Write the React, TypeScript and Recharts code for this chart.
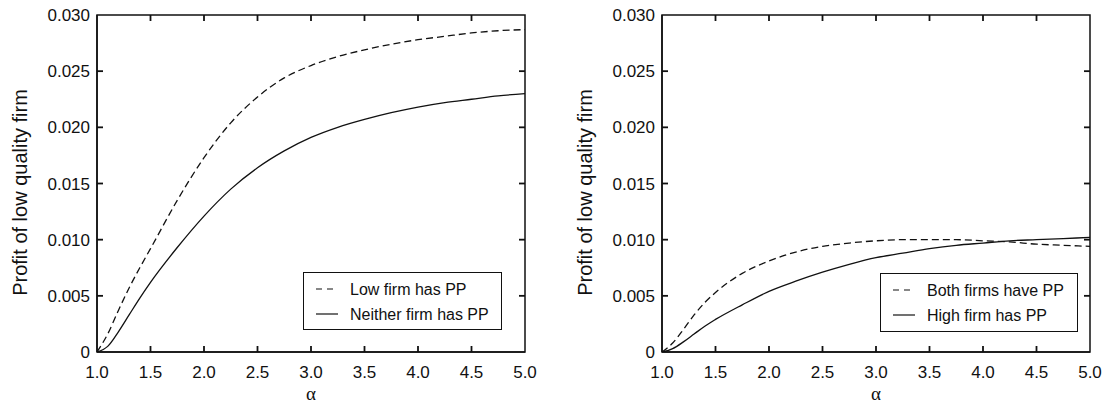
import React from 'react';
import { LineChart, Line, XAxis, YAxis, Legend, Label, ReferenceLine, ReferenceArea } from 'recharts';

const ALPHA = [1.0, 1.1, 1.2, 1.3, 1.4, 1.5, 1.75, 2.0, 2.25, 2.5, 2.75, 3.0, 3.25, 3.5, 3.75, 4.0, 4.25, 4.5, 4.75, 5.0];

// Left panel
const LOW_FIRM_PP = [0, 0.0016, 0.0037, 0.0057, 0.0075, 0.0092, 0.0135, 0.0173, 0.0204, 0.0227, 0.0244, 0.0255, 0.0263, 0.0269, 0.0274, 0.0278, 0.0281, 0.0284, 0.0286, 0.0287];
const NEITHER_FIRM_PP = [0, 0.0005, 0.0018, 0.0033, 0.0048, 0.0062, 0.0093, 0.0121, 0.0145, 0.0164, 0.0179, 0.0191, 0.02, 0.0207, 0.0213, 0.0218, 0.0222, 0.0225, 0.0228, 0.023];

// Right panel
const BOTH_FIRMS_PP = [0, 0.0008, 0.002, 0.0033, 0.0044, 0.0053, 0.007, 0.0081, 0.0089, 0.0094, 0.0097, 0.0099, 0.01, 0.01, 0.01, 0.0099, 0.0098, 0.0096, 0.0095, 0.0094];
const HIGH_FIRM_PP = [0, 0.0003, 0.0009, 0.0016, 0.0023, 0.0029, 0.0042, 0.0054, 0.0063, 0.0071, 0.0078, 0.0084, 0.0088, 0.0092, 0.0095, 0.0097, 0.0099, 0.01, 0.0101, 0.0102];

const X_TICKS = [1.0, 1.5, 2.0, 2.5, 3.0, 3.5, 4.0, 4.5, 5.0];
const Y_TICKS = [0, 0.005, 0.01, 0.015, 0.02, 0.025, 0.03];

const Y_LABEL = 'Profit of low quality firm';
const X_LABEL = 'α';

const FONT = '"Liberation Sans", Arial, Helvetica, sans-serif';
const INK = '#111';
const DASH = '7 4';

const X_MIN = 1;
const X_MAX = 5;
const Y_MIN = 0;
const Y_MAX = 0.03;
const PLOT_W = 428;
const PLOT_H = 337;
const TICK_PX = 6;
const TICK_DX = ((X_MAX - X_MIN) * TICK_PX) / PLOT_W;
const TICK_DY = ((Y_MAX - Y_MIN) * TICK_PX) / PLOT_H;

const fmtX = (v: number) => v.toFixed(1);
const fmtY = (v: number) => (v === 0 ? '0' : v.toFixed(3));

const BottomTick = (p: any) => (
  <text x={p.x} y={p.y + 26} textAnchor="middle" fontSize={17} fontFamily={FONT} fill={INK}>
    {fmtX(p.payload.value)}
  </text>
);
const LeftTick = (p: any) => (
  <text x={p.x - 7} y={p.y + 6} textAnchor="end" fontSize={17} fontFamily={FONT} fill={INK}>
    {fmtY(p.payload.value)}
  </text>
);

type PanelProps = {
  dashedName: string;
  solidName: string;
  dashed: number[];
  solid: number[];
  yAxisWidth: number;
  rightMargin: number;
  labelX: number;
  legend: { left: number; top: number; width: number; height: number };
};

const makeLegend = (box: PanelProps['legend'], dashedName: string, solidName: string) => () => (
  <svg width={box.width} height={box.height} style={{ display: 'block' }}>
    <rect x={0.5} y={0.5} width={box.width - 1} height={box.height - 1} fill="#fff" stroke={INK} strokeWidth={1} />
    <line x1={13} y1={17} x2={35} y2={17} stroke={INK} strokeWidth={1.2} strokeDasharray="6 5" />
    <text x={47} y={23} fontSize={16} fontFamily={FONT} fill={INK}>{dashedName}</text>
    <line x1={13} y1={42} x2={35} y2={42} stroke={INK} strokeWidth={1.2} />
    <text x={47} y={48} fontSize={16} fontFamily={FONT} fill={INK}>{solidName}</text>
  </svg>
);

const AXIS_LINE = { stroke: INK, strokeWidth: 1.5 };
const TICK_STYLE = { stroke: INK, strokeWidth: 1.8 };

const Panel = (props: PanelProps) => {
  const data = ALPHA.map((a, i) => ({ alpha: a, dashed: props.dashed[i], solid: props.solid[i] }));
  const labelX = props.labelX;
  const innerX = X_TICKS.filter((t) => t > X_MIN && t < X_MAX);
  const innerY = Y_TICKS.filter((t) => t > Y_MIN && t < Y_MAX);
  return (
    <LineChart
      width={553}
      height={410}
      data={data}
      margin={{ top: 15, right: props.rightMargin, bottom: 8, left: 0 }}
    >
      <XAxis
        dataKey="alpha"
        type="number"
        domain={[X_MIN, X_MAX]}
        ticks={X_TICKS}
        allowDataOverflow
        height={50}
        tickLine={false}
        tickSize={0}
        tickMargin={0}
        tick={BottomTick}
        axisLine={AXIS_LINE}
        interval={0}
      >
        <Label value={X_LABEL} position="insideBottom" offset={2} fontSize={19} fontFamily='"Liberation Serif", "DejaVu Serif", serif' fill={INK} />
      </XAxis>
      <YAxis
        type="number"
        domain={[Y_MIN, Y_MAX]}
        ticks={Y_TICKS}
        allowDataOverflow
        width={props.yAxisWidth}
        tickLine={false}
        tickSize={0}
        tickMargin={0}
        tick={LeftTick}
        axisLine={AXIS_LINE}
        interval={0}
      >
        <Label
          content={(lp: any) => {
            const vb = lp.viewBox || { y: 15, height: 337 };
            const cy = vb.y + vb.height / 2 + 9;
            return (
              <text
                x={labelX}
                y={cy}
                transform={`rotate(-90, ${labelX}, ${cy})`}
                textAnchor="middle"
                dominantBaseline="central"
                fontSize={20}
                fontFamily={FONT}
                fill={INK}
              >
                {Y_LABEL}
              </text>
            );
          }}
        />
      </YAxis>
      <ReferenceArea
        x1={X_MIN}
        x2={X_MAX}
        y1={Y_MIN}
        y2={Y_MAX}
        fill="none"
        fillOpacity={0}
        stroke={INK}
        strokeWidth={1.5}
        ifOverflow="visible"
      />
      {innerX.map((t) => (
        <ReferenceLine
          key={`b${t}`}
          segment={[{ x: t, y: Y_MIN }, { x: t, y: Y_MIN + TICK_DY }]}
          {...TICK_STYLE}
          ifOverflow="visible"
        />
      ))}
      {innerX.map((t) => (
        <ReferenceLine
          key={`t${t}`}
          segment={[{ x: t, y: Y_MAX }, { x: t, y: Y_MAX - TICK_DY }]}
          {...TICK_STYLE}
          ifOverflow="visible"
        />
      ))}
      {innerY.map((t) => (
        <ReferenceLine
          key={`l${t}`}
          segment={[{ x: X_MIN, y: t }, { x: X_MIN + TICK_DX, y: t }]}
          {...TICK_STYLE}
          ifOverflow="visible"
        />
      ))}
      {innerY.map((t) => (
        <ReferenceLine
          key={`r${t}`}
          segment={[{ x: X_MAX, y: t }, { x: X_MAX - TICK_DX, y: t }]}
          {...TICK_STYLE}
          ifOverflow="visible"
        />
      ))}
      <Line
        dataKey="dashed"
        name={props.dashedName}
        type="monotone"
        stroke={INK}
        strokeWidth={1.3}
        strokeDasharray={DASH}
        dot={false}
        activeDot={false}
        isAnimationActive={false}
      />
      <Line
        dataKey="solid"
        name={props.solidName}
        type="monotone"
        stroke={INK}
        strokeWidth={1.3}
        dot={false}
        activeDot={false}
        isAnimationActive={false}
      />
      <Legend
        layout="vertical"
        align="center"
        verticalAlign="middle"
        content={makeLegend(props.legend, props.dashedName, props.solidName)}
        wrapperStyle={{
          left: props.legend.left,
          top: props.legend.top,
          width: props.legend.width,
          height: props.legend.height,
          margin: 0,
          padding: 0,
        }}
      />
    </LineChart>
  );
};

export default function App() {
  return (
    <div style={{ position: 'absolute', left: 0, top: 0, width: 1106, height: 410, background: '#fff' }}>
      <div style={{ position: 'absolute', left: 0, top: 0 }}>
        <Panel
          dashedName="Low firm has PP"
          solidName="Neither firm has PP"
          dashed={LOW_FIRM_PP}
          solid={NEITHER_FIRM_PP}
          yAxisWidth={97}
          rightMargin={28}
          labelX={20}
          legend={{ left: 303, top: 272, width: 199, height: 58 }}
        />
      </div>
      <div style={{ position: 'absolute', left: 553, top: 0 }}>
        <Panel
          dashedName="Both firms have PP"
          solidName="High firm has PP"
          dashed={BOTH_FIRMS_PP}
          solid={HIGH_FIRM_PP}
          yAxisWidth={109}
          rightMargin={16}
          labelX={32}
          legend={{ left: 327, top: 273, width: 198, height: 59 }}
        />
      </div>
    </div>
  );
}
